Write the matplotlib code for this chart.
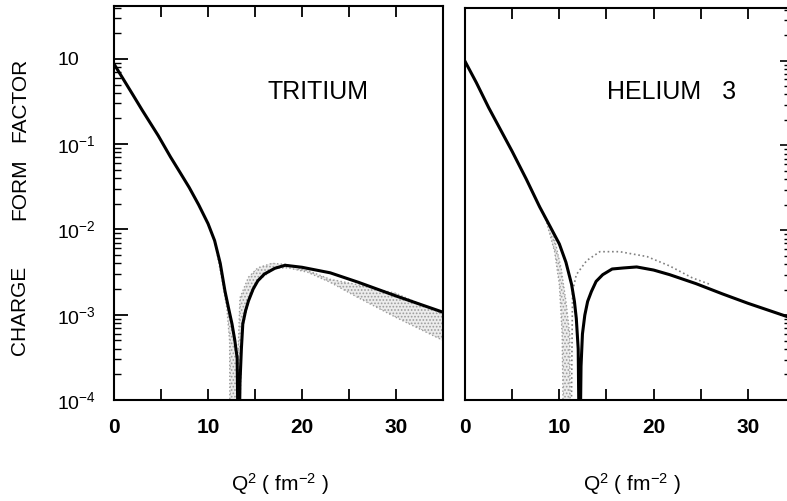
import numpy as np
import matplotlib
matplotlib.use("Agg")
import matplotlib.pyplot as plt

plt.rcParams['font.family'] = ['Liberation Sans', 'DejaVu Sans']
plt.rcParams['mathtext.default'] = 'regular'
plt.rcParams['hatch.linewidth'] = 0.8

# ---------------------------------------------------------------------------
# data (Q^2 in fm^-2, |F| charge form factor)
# ---------------------------------------------------------------------------
t_q2 = [0, 1, 2, 3, 4.7, 6, 7, 8, 9, 10, 10.7, 11.3, 11.8, 12.2, 12.55,
        12.85, 13.1, 13.25, 13.4, 13.55, 13.7, 14.0, 14.3, 14.8, 15.3, 16.0,
        17.1, 18.2, 20.0, 23.0, 26, 30, 35]
t_f = [0.87, 0.575, 0.38, 0.25, 0.126, 0.071, 0.047, 0.031, 0.0195, 0.0117,
       0.0074, 0.0040, 0.0019, 0.00117, 7.8e-4, 5.0e-4, 3.1e-4, 1e-5, 1.6e-4,
       4.0e-4, 7.8e-4, 1.12e-3, 1.45e-3, 2.0e-3, 2.5e-3, 3.0e-3, 3.5e-3,
       3.8e-3, 3.6e-3, 3.1e-3, 2.4e-3, 1.66e-3, 1.07e-3]

# tritium experimental band
t_fall_out_q2 = [10.7, 11.5, 12.0, 12.3, 12.35]
t_fall_out_f = [7.4e-3, 2.5e-3, 1.2e-3, 4.9e-4, 1e-5]
t_fall_in_q2 = [10.7, 11.8, 12.55, 13.1, 13.2]
t_fall_in_f = [7.4e-3, 1.9e-3, 7.8e-4, 3.1e-4, 1e-5]
t_rise_hi_q2 = [12.7, 13.4, 14.3, 15.3, 16.8, 18.2, 20.6, 23, 26, 30, 35]
t_rise_hi_f = [1e-5, 1.58e-3, 2.75e-3, 3.55e-3, 4.0e-3, 3.9e-3, 3.3e-3,
               2.6e-3, 2.24e-3, 1.78e-3, 1.02e-3]
t_rise_lo_q2 = [13.2, 13.6, 14.3, 15.3, 17.1, 18.5, 20.6, 23, 26, 30, 35]
t_rise_lo_f = [1e-5, 6.3e-4, 1.45e-3, 2.5e-3, 3.5e-3, 3.55e-3, 3.15e-3,
               2.4e-3, 1.58e-3, 9.3e-4, 5.0e-4]

h_q2 = [0, 1.2, 2.5, 3.7, 5.0, 6.5, 7.9, 9.0, 10.0, 10.7, 11.3, 11.6, 11.8,
        12.0, 12.15, 12.3, 12.45, 12.7, 13.0, 13.4, 13.9, 14.6, 15.6, 16.8,
        18.2, 20, 21.7, 24.5, 27.3, 30, 34.3]
h_f = [0.98, 0.55, 0.28, 0.158, 0.085, 0.040, 0.019, 0.0112, 0.0069, 0.0042,
       0.0023, 0.00145, 9.1e-4, 4.0e-4, 1e-5, 2.5e-4, 6.0e-4, 1.0e-3,
       1.45e-3, 1.9e-3, 2.5e-3, 3.0e-3, 3.5e-3, 3.6e-3, 3.7e-3, 3.4e-3,
       3.0e-3, 2.35e-3, 1.78e-3, 1.38e-3, 9.5e-4]

# helium-3 experimental band
h_fall_out_q2 = [7.9, 8.6, 9.5, 10.0, 10.3, 10.5]
h_fall_out_f = [0.0195, 0.0129, 0.0056, 0.0023, 6.0e-4, 1e-5]
h_fall_in_q2 = [7.9, 9.3, 10.2, 10.7, 11.1, 11.2]
h_fall_in_f = [0.019, 0.0098, 0.0035, 1.45e-3, 6.0e-4, 1e-5]
h_rise_q2 = [11.2, 11.4, 11.8, 12.9, 14.3, 16.4, 19.3, 21.7, 24.1, 26]
h_rise_f = [1e-5, 1.9e-3, 3.0e-3, 4.4e-3, 5.6e-3, 5.6e-3, 4.9e-3, 3.8e-3,
            2.75e-3, 2.3e-3]

decades = [1, 1e-1, 1e-2, 1e-3, 1e-4]
decade_labels = ['10', '10$^{-1}$', '10$^{-2}$', '10$^{-3}$', '10$^{-4}$']

band_col = '#9c9c9c'


def band(ax, xa, ya, xb, yb):
    xs = np.concatenate([xa, xb[::-1]])
    ys = np.concatenate([ya, yb[::-1]])
    ax.fill(xs, ys, facecolor='#ececec', edgecolor=band_col, hatch='.....',
            linewidth=0, zorder=1)
    ax.plot(xa, ya, ls=':', color=band_col, lw=1.0, zorder=1)
    ax.plot(xb, yb, ls=':', color=band_col, lw=1.0, zorder=1)


fig = plt.figure(figsize=(7.87, 5.01), dpi=100)
ax1 = fig.add_axes([0.1449, 0.2016, 0.4180, 0.7864])
ax2 = fig.add_axes([0.5909, 0.2016, 0.4110, 0.7824])

for ax in (ax1, ax2):
    ax.set_yscale('log')
    ax.set_ylim(1e-4, 10 ** 0.62)
    ax.set_xticks([0, 5, 10, 15, 20, 25, 30])
    ax.set_xticklabels(['0', '', '10', '', '20', '', '30'], fontweight='bold')
    ax.tick_params(axis='x', which='major', direction='in', top=True,
                   length=8, width=1.3, labelsize=15, pad=13)
    ax.tick_params(axis='x', which='minor', bottom=False, top=False)
    for s in ax.spines.values():
        s.set_linewidth(1.5)

ax1.set_xlim(0, 35)
ax2.set_xlim(0, 34.3)

# tritium
band(ax1, np.array(t_fall_out_q2), np.array(t_fall_out_f),
     np.array(t_fall_in_q2), np.array(t_fall_in_f))
band(ax1, np.array(t_rise_hi_q2), np.array(t_rise_hi_f),
     np.array(t_rise_lo_q2), np.array(t_rise_lo_f))
ax1.plot(t_q2, t_f, color='black', lw=2.2, zorder=3)

ax1.set_yticks(decades)
ax1.set_yticklabels(decade_labels, ha='left')
ax1.tick_params(axis='y', which='major', direction='in', left=True,
                right=False, length=10, width=1.3, labelsize=14, pad=41)
ax1.tick_params(axis='y', which='minor', direction='in', left=True,
                right=False, length=5, width=1.0)
ax1.text(0.62, 0.782, 'TRITIUM', transform=ax1.transAxes, fontsize=18,
         ha='center', va='center')

# helium 3
band(ax2, np.array(h_fall_out_q2), np.array(h_fall_out_f),
     np.array(h_fall_in_q2), np.array(h_fall_in_f))
ax2.plot(h_rise_q2, h_rise_f, ls=':', color='#808080', lw=1.2, zorder=2)
ax2.plot(h_q2, h_f, color='black', lw=2.2, zorder=3)

ax2.set_yticks(decades)
ax2.set_yticklabels([])
ax2.tick_params(axis='y', which='major', direction='in', left=False,
                right=True, length=6, width=1.2, labelleft=False)
ax2.tick_params(axis='y', which='minor', direction='in', left=False,
                right=True, length=3, width=1.0)
ax2.text(0.64, 0.786, 'HELIUM   3', transform=ax2.transAxes, fontsize=18,
         ha='center', va='center')

# shared labels
for word, yc in (('FACTOR', 100), ('FORM', 189), ('CHARGE', 310)):
    fig.text(20 / 787, 1 - yc / 501, word, rotation=90, fontsize=15,
             ha='center', va='center')
for xc in (280, 632):
    fig.text(xc / 787, 1 - 484 / 501, 'Q$^{2}$ ( fm$^{-2}$ )', fontsize=15,
             ha='center', va='center')

fig.savefig('out.png', dpi=100)
